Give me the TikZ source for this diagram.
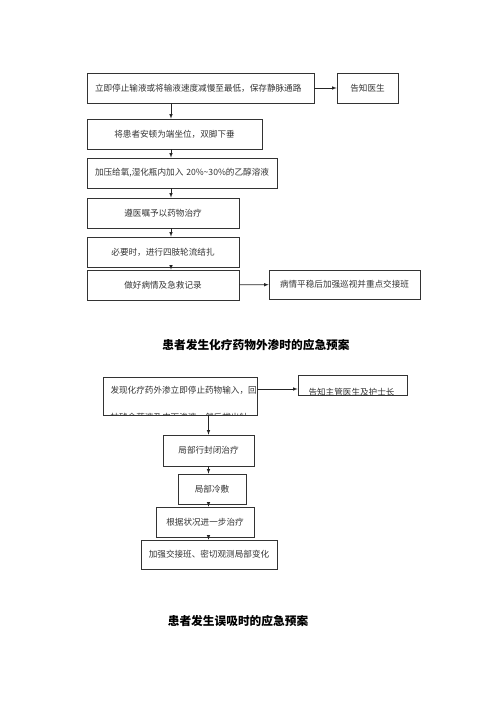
\documentclass[tikz,border=0pt]{standalone}
\usepackage{fontspec}
\newfontfamily\cjk{Noto Sans CJK SC}
\usetikzlibrary{positioning, arrows}

\begin{document}
\begin{tikzpicture}[x=1pt,y=-1pt, >=latex,
  every node/.style={font=\cjk\fontsize{8.6}{10}\selectfont, text=black!80},
  box/.style={draw=black!80, line width=0.6pt, inner sep=0pt},
  lbox/.style={box, align=left, inner xsep=8pt},
  head/.style={font=\cjk\bfseries\fontsize{11.7}{13}\selectfont, text=black},
  arr/.style={->, draw=black!85, line width=0.6pt}]
\useasboundingbox (0,0) rectangle (500,707);
\coordinate (spine) at (171,0);
\coordinate (spinetwo) at (208.5,0);
\coordinate (level) at (0,389);
% first plan
\node[lbox, minimum height=30pt, text width=211pt] (stop) at (200.5,88) {立即停止输液或将输液速度减慢至最低，保存静脉通路};
\node[box, minimum width=61pt, minimum height=30pt] (doctor) at (367.5,88) {告知医生};
\node[box, minimum width=175pt, minimum height=30pt] (sit) at (174.5,134) {将患者安顿为端坐位，双脚下垂};
\node[lbox, minimum height=30pt, text width=174pt] (oxygen) at (182,173) {加压给氧,湿化瓶内加入 20\%\textasciitilde30\%的乙醇溶液};
\node[box, minimum width=152pt, minimum height=30pt] (drug) at (163,213) {遵医嘱予以药物治疗};
\node[box, minimum width=152pt, minimum height=30pt] (ligate) at (163,252) {必要时，进行四肢轮流结扎};
\node[box, minimum width=152pt, minimum height=30pt] (record) at (163,285) {做好病情及急救记录};
\node[box, minimum width=151pt, minimum height=29pt] (stable) at (344.5,284.5) {病情平稳后加强巡视并重点交接班};
\draw[arr] (stop) -- (doctor);
\draw[arr] (stop.south -| spine) -- (sit.north -| spine);
\draw[arr] (sit.south -| spine) -- (oxygen.north -| spine);
\draw[arr] (oxygen.south -| spine) -- (drug.north -| spine);
\draw[arr] (drug.south -| spine) -- (ligate.north -| spine);
\draw[arr] (ligate.south -| spine) -- (record.north -| spine);
\draw[arr] (record) -- (stable);
\node[head] (titleone) at (256,345) {患者发生化疗药物外渗时的应急预案};
% second plan
\node[box, minimum width=154pt, minimum height=38pt] (found) at (180,396) {};
\node[box, minimum width=109pt, minimum height=20pt] (notify) at (352.5,385) {};
\begin{scope}
\clip (found.north west) rectangle (found.south east);
\node[anchor=west] (foundone) at (107,390) {发现化疗药外渗立即停止药物输入，回};
\node[anchor=west] (foundtwo) at (107,417.5) {抽残余药液及皮下渗液，然后拔出针};
\end{scope}
\begin{scope}
\clip (notify.north west) rectangle (notify.south east);
\node[anchor=west] (notifytext) at (305,392.5) {告知主管医生及护士长};
\end{scope}
\node[box, minimum width=91pt, minimum height=31pt] (seal) at (208.5,450.5) {局部行封闭治疗};
\node[box, minimum width=68pt, minimum height=30pt] (cold) at (212,489) {局部冷敷};
\node[box, minimum width=98pt, minimum height=30pt] (further) at (205,522) {根据状况进一步治疗};
\node[box, minimum width=136pt, minimum height=29pt] (watch) at (209,554.5) {加强交接班、密切观测局部变化};
\draw[arr] (found.east |- level) -- (notify.west |- level);
\draw[arr] (found.south -| spinetwo) -- (seal.north -| spinetwo);
\draw[arr] (seal.south -| spinetwo) -- (cold.north -| spinetwo);
\draw[arr] (cold.south -| spinetwo) -- (further.north -| spinetwo);
\draw[arr] (further.south -| spinetwo) -- (watch.north -| spinetwo);
\node[head] (titletwo) at (238,621) {患者发生误吸时的应急预案};
\end{tikzpicture}
\end{document}
